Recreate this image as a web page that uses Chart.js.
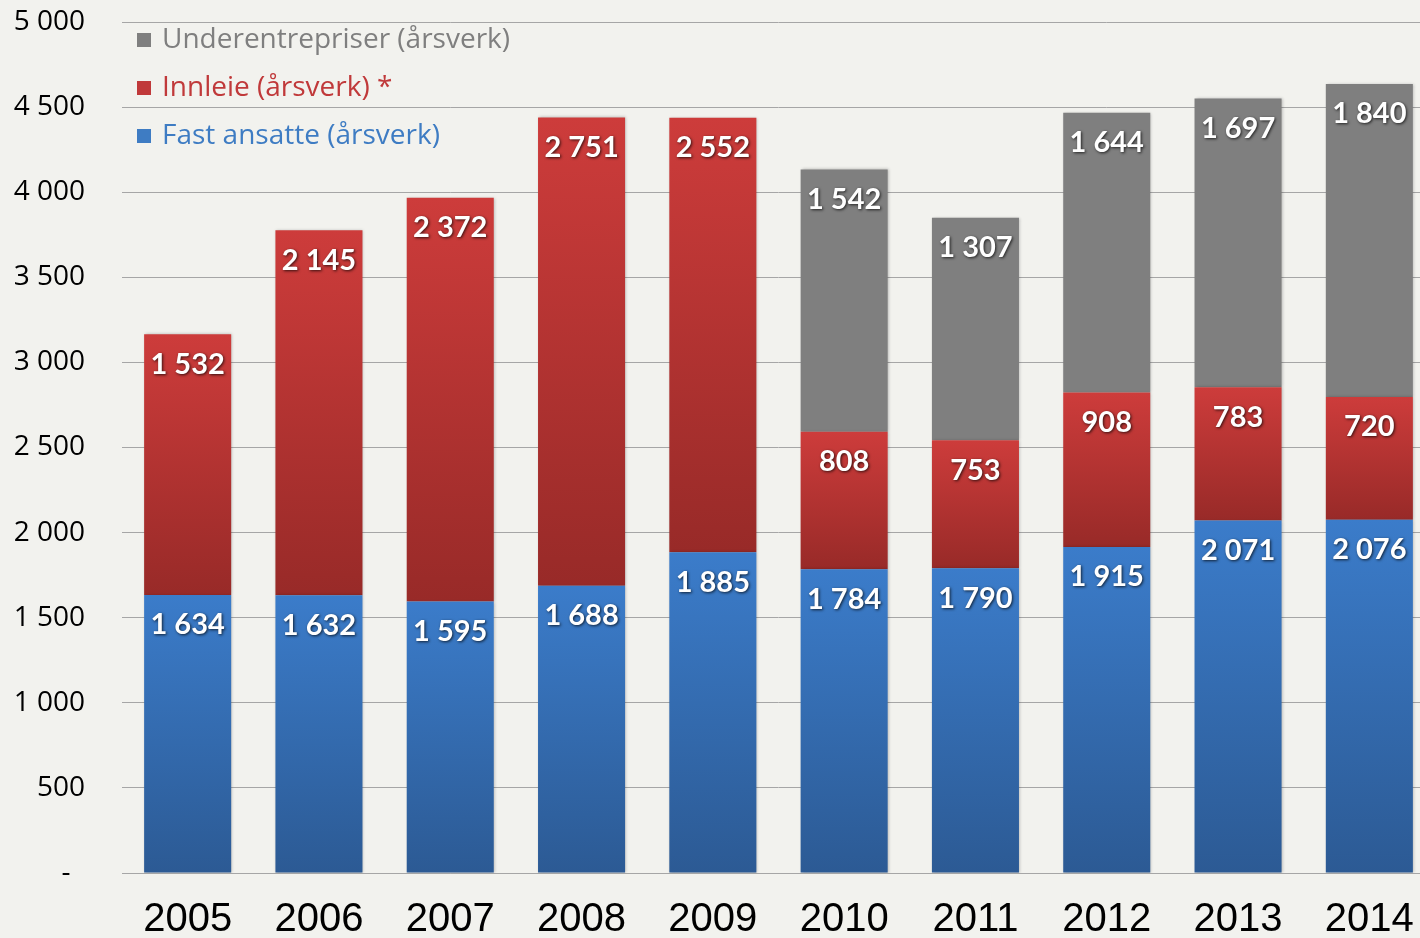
<!DOCTYPE html>
<html lang="no">
<head>
  <meta charset="UTF-8" />
  <title>Årsverk</title>
  <style>
    html, body { margin: 0; padding: 0; background: #f2f2ee; overflow: hidden; }
    #wrap { width: 1440px; height: 938px; }
  </style>
</head>
<body>
  <div id="wrap"><canvas id="myChart"></canvas></div>

  <script src="https://cdn.jsdelivr.net/npm/chart.js"></script>
  <script>
const years = ['2005', '2006', '2007', '2008', '2009', '2010', '2011', '2012', '2013', '2014'];
const fastAnsatte = [1634, 1632, 1595, 1688, 1885, 1784, 1790, 1915, 2071, 2076];
const innleie = [1532, 2145, 2372, 2751, 2552, 808, 753, 908, 783, 720];
const underentrepriser = [0, 0, 0, 0, 0, 1542, 1307, 1644, 1697, 1840];

function fmt(v) {
  return String(Math.round(v)).replace(/\B(?=(\d{3})+(?!\d))/g, ' ');
}

// vertical gradient per bar segment
function segGradient(top, bottom, fallback) {
  return (c) => {
    const chart = c.chart;
    if (!chart.chartArea || c.type !== 'data') return fallback;
    const ds = chart.data.datasets;
    let base = 0;
    for (let i = 0; i < c.datasetIndex; i++) base += ds[i].data[c.dataIndex];
    const y = chart.scales.y;
    const y0 = y.getPixelForValue(base + c.raw);
    const y1 = y.getPixelForValue(base);
    if (!isFinite(y0) || !isFinite(y1) || y0 === y1) return fallback;
    const g = chart.ctx.createLinearGradient(0, y0, 0, y1);
    g.addColorStop(0, top);
    g.addColorStop(1, bottom);
    return g;
  };
}

// legend colours in dataset order: fast, innleie, underentrepriser
const legendColors = ['#3e7cc3', '#c0393a', '#7f7f7f'];

// soft shadow behind the bars
const barShadow = {
  id: 'barShadow',
  beforeDatasetsDraw(chart) {
    const ctx = chart.ctx;
    ctx.save();
    ctx.shadowColor = 'rgba(0,0,0,0.25)';
    ctx.shadowBlur = 3;
    ctx.shadowOffsetX = 1;
    ctx.shadowOffsetY = 0;
  },
  afterDatasetsDraw(chart) {
    chart.ctx.restore();
  }
};

const valueLabels = {
  id: 'valueLabels',
  afterDatasetsDraw(chart) {
    const ctx = chart.ctx;
    ctx.save();
    ctx.font = 'bold 29px Lato';
    ctx.textAlign = 'center';
    ctx.textBaseline = 'middle';
    chart.data.datasets.forEach((ds, di) => {
      const meta = chart.getDatasetMeta(di);
      meta.data.forEach((bar, i) => {
        const v = ds.data[i];
        if (!v) return;
        ctx.shadowColor = 'rgba(0,0,0,0.75)';
        ctx.shadowBlur = 3;
        ctx.shadowOffsetX = 1;
        ctx.shadowOffsetY = 1;
        ctx.fillStyle = '#ffffff';
        ctx.fillText(fmt(v), bar.x, bar.y + 30);
      });
    });
    ctx.restore();
  }
};

const sideLegend = {
  id: 'sideLegend',
  afterDraw(chart) {
    const ctx = chart.ctx;
    const a = chart.chartArea;
    const items = chart.data.datasets.map((d, i) => ({ text: d.label, color: legendColors[i] })).reverse();
    ctx.save();
    ctx.font = '28px "Open Sans"';
    ctx.textBaseline = 'middle';
    items.forEach((it, k) => {
      const y = a.top + 18 + k * 48;
      ctx.fillStyle = it.color;
      ctx.fillRect(a.left + 15, y - 7, 14, 14);
      ctx.fillText(it.text, a.left + 40, y);
    });
    ctx.restore();
  }
};

const data = {
  labels: years,
  datasets: [
    {
      label: 'Fast ansatte (årsverk)',
      data: fastAnsatte,
      backgroundColor: segGradient('#3b7cca', '#2c5a94', '#3570b5'),
    },
    {
      label: 'Innleie (årsverk) *',
      data: innleie,
      backgroundColor: segGradient('#cd3c3b', '#982a28', '#b83533'),
    },
    {
      label: 'Underentrepriser (årsverk)',
      data: underentrepriser,
      backgroundColor: '#7f7f7f',
    }
  ]
};

new Chart(document.getElementById('myChart'), {
  type: 'bar',
  data: data,
  plugins: [barShadow, valueLabels, sideLegend],
  options: {
    responsive: true,
    maintainAspectRatio: false,
    animation: false,
    layout: { padding: { left: 14, right: 5, top: 22, bottom: 0 } },
    datasets: {
      bar: { barPercentage: 0.663, categoryPercentage: 1, borderWidth: 0 }
    },
    scales: {
      x: {
        stacked: true,
        afterFit: (s) => { s.height = 65; s.paddingLeft = 0; s.paddingRight = 0; },
        grid: { display: false, drawTicks: false },
        border: { display: true, color: '#a6a6a6', width: 1 },
        ticks: { color: '#000000', font: { family: 'Liberation Sans', size: 40 }, padding: 23, maxRotation: 0 }
      },
      y: {
        stacked: true,
        min: 0,
        max: 5000,
        afterFit: (s) => { s.width = 108; s.paddingTop = 0; s.paddingBottom = 0; },
        grid: { color: '#a6a6a6', lineWidth: 1, drawTicks: false },
        border: { display: false },
        ticks: {
          stepSize: 500,
          color: '#000000',
          padding: 37,
          font: { family: 'Open Sans', size: 28 },
          callback: (v) => v === 0 ? '-  ' : fmt(v)
        }
      }
    },
    plugins: {
      legend: { display: false },
      tooltip: { enabled: false }
    }
  }
});
  </script>
</body>
</html>
